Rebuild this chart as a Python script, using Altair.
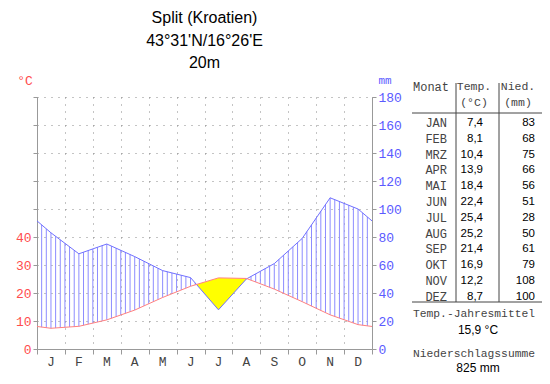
import altair as alt
import numpy as np
import pandas as pd

# ---------------- data ----------------
months = ["JAN", "FEB", "MRZ", "APR", "MAI", "JUN", "JUL", "AUG", "SEP", "OKT", "NOV", "DEZ"]
letters = ["J", "F", "M", "A", "M", "J", "J", "A", "S", "O", "N", "D"]
temp = [7.4, 8.1, 10.4, 13.9, 18.4, 22.4, 25.4, 25.2, 21.4, 16.9, 12.2, 8.7]
precip = [83, 68, 75, 66, 56, 51, 28, 50, 61, 79, 108, 100]
title_lines = ["Split (Kroatien)", "43°31'N/16°26'E", "20m"]

# ---------------- layout / style ----------------
W, H = 335, 252
YMAX = 180
RED = "#ff4d4d"
BLUE = "#5a5aff"
TLINE = "#ff8080"
PLINE = "#7070ff"
HATCH = "#8c8cff"
GRAY = "#999999"
MONO = "Liberation Mono"
SANS = "Liberation Sans"

# ---------------- derived geometry (from the arrays) ----------------
xk = np.array([0.0] + [i + 0.5 for i in range(12)] + [12.0])
edge_t = (temp[0] + temp[-1]) / 2
edge_p = (precip[0] + precip[-1]) / 2
tk = np.array([edge_t] + temp + [edge_t]) * 2.0   # 10 °C = 20 mm
pk = np.array([edge_p] + precip + [edge_p], dtype=float)
curves = pd.DataFrame({"x": xk, "t": tk, "p": pk})

hx = np.arange(1, 72) / 6.0
ht = np.interp(hx, xk, tk)
hp = np.interp(hx, xk, pk)
m = hp > ht
hatch = pd.DataFrame({"x": hx[m], "lo": ht[m], "hi": hp[m]})

xs = list(xk)
d = pk - tk
for i in range(len(xk) - 1):
    if d[i] * d[i + 1] < 0:
        xs.append(xk[i] + (xk[i + 1] - xk[i]) * d[i] / (d[i] - d[i + 1]))
xs = np.sort(np.array(xs))
at = np.interp(xs, xk, tk)
ap = np.interp(xs, xk, pk)
dry = pd.DataFrame({"x": xs, "lo": np.minimum(at, ap), "hi": at})

letters_df = pd.DataFrame({"pos": [i + 0.5 for i in range(12)], "letter": letters})

# ---------------- scales and axes ----------------
xsc = alt.Scale(domain=[0, 12], nice=False, zero=False)
ysc = alt.Scale(domain=[0, YMAX], nice=False)
xaxis = alt.Axis(values=list(range(13)), labels=False, title=None, ticks=True, tickSize=5,
                 tickColor=GRAY, domainColor=GRAY, grid=True, gridDash=[1, 6],
                 gridColor="#888888")
yaxisL = alt.Axis(values=list(range(0, YMAX + 1, 20)),
                  labelExpr="datum.value <= 80 ? '' + datum.value / 2 : ''",
                  title=None, labelColor=RED, labelFont=MONO, labelFontSize=13,
                  tickColor=GRAY, tickSize=4, labelPadding=2, domainColor=GRAY,
                  grid=True, gridDash=[1, 6], gridColor="#888888")
yaxisR = alt.Axis(orient="right", values=list(range(0, YMAX + 1, 20)), title=None,
                  labelColor=BLUE, labelFont=MONO, labelFontSize=13, tickColor=GRAY,
                  tickSize=4, labelPadding=2, domainColor=GRAY, grid=False)

X = lambda f: alt.X(f, scale=xsc, axis=xaxis)
Y = lambda f: alt.Y(f, scale=ysc, axis=yaxisL)

hatch_l = alt.Chart(hatch).mark_rule(color=HATCH, strokeWidth=1).encode(
    x=X("x:Q"), y=Y("lo:Q"), y2="hi:Q")
dry_l = alt.Chart(dry).mark_area(color="#ffff00", opacity=1).encode(
    x=X("x:Q"), y=Y("lo:Q"), y2="hi:Q")
p_line = alt.Chart(curves).mark_line(color=PLINE, strokeWidth=1).encode(
    x=X("x:Q"), y=Y("p:Q"))
t_line = alt.Chart(curves).mark_line(color=TLINE, strokeWidth=1).encode(
    x=X("x:Q"), y=Y("t:Q"))
mon_l = alt.Chart(letters_df).mark_text(font=MONO, fontSize=13, color="#444444",
                                         baseline="middle").encode(
    x=X("pos:Q"), y=alt.value(H + 13), text="letter:N")

main = alt.layer(hatch_l, dry_l, p_line, t_line, mon_l)

right = alt.Chart(curves).mark_line(opacity=0).encode(
    x=alt.X("x:Q", scale=xsc, axis=None), y=alt.Y("p:Q", scale=ysc, axis=yaxisR))

# ---------------- table ----------------
tbl = pd.DataFrame({
    "row": list(range(12)),
    "mon": months,
    "t": [f"{v:.1f}".replace(".", ",") for v in temp],
    "p": [str(v) for v in precip],
})
rsc = alt.Scale(domain=[0, 11], range=[26, 26 + 15.8 * 11])
RY = alt.Y("row:Q", scale=rsc, axis=None)
tbl_m = alt.Chart(tbl).mark_text(font=MONO, fontSize=12, color="#444444", align="right",
                                 baseline="middle").encode(x=alt.value(410), y=RY, text="mon:N")
tbl_t = alt.Chart(tbl).mark_text(font=SANS, fontSize=11.5, color="#000000", align="right",
                                 baseline="middle").encode(x=alt.value(446), y=RY, text="t:N")
tbl_p = alt.Chart(tbl).mark_text(font=SANS, fontSize=11.5, color="#000000", align="right",
                                 baseline="middle").encode(x=alt.value(498), y=RY, text="p:N")

mean_t = f"{np.mean(temp):.1f}".replace(".", ",") + " °C"
sum_p = f"{sum(precip)} mm"


def txt(s, x, y, font=MONO, size=11.5, color="#444444", align="center"):
    return alt.Chart(pd.DataFrame({"s": [s]})).mark_text(
        font=font, fontSize=size, color=color, align=align, baseline="middle").encode(
        x=alt.value(x), y=alt.value(y), text="s:N")


def rule(x1, x2, y1, y2, color="#444444"):
    return alt.Chart(pd.DataFrame({"a": [0]})).mark_rule(color=color, strokeWidth=1).encode(
        x=alt.value(x1), x2=alt.value(x2), y=alt.value(y1), y2=alt.value(y2))


annots = [
    txt(title_lines[0], 167.5, -79, SANS, 16, "#000000"),
    txt(title_lines[1], 167.5, -56, SANS, 16, "#000000"),
    txt(title_lines[2], 167.5, -34, SANS, 16, "#000000"),
    txt("°C", -12, -16, MONO, 13, RED),
    txt("mm", 348, -16, MONO, 11, BLUE),
    txt("Monat", 394, -10, MONO, 12),
    txt("Temp.", 437, -10),
    txt("(°C)", 437, 6),
    txt("Nied.", 481, -10),
    txt("(mm)", 481, 6),
    rule(419, 419, -14, 205),
    rule(462, 462, -14, 205),
    rule(375, 505, 16, 16),
    rule(375, 505, 205, 205),
    txt("Temp.-Jahresmittel", 437, 217, MONO, 11.3),
    txt(mean_t, 441, 233, SANS, 12, "#000000"),
    txt("Niederschlagssumme", 437, 257, MONO, 11.3),
    txt(sum_p, 441, 271, SANS, 12, "#000000"),
]

chart = alt.layer(main, right, tbl_m, tbl_t, tbl_p, *annots).resolve_scale(
    x="independent", y="independent"
).properties(
    width=W, height=H,
    padding={"left": 29, "top": 89, "right": 170, "bottom": 27},
    autosize=alt.AutoSizeParams(type="none"),
).configure_view(stroke=None)

chart.save("out.html", embed_options={"renderer": "svg", "actions": False})
